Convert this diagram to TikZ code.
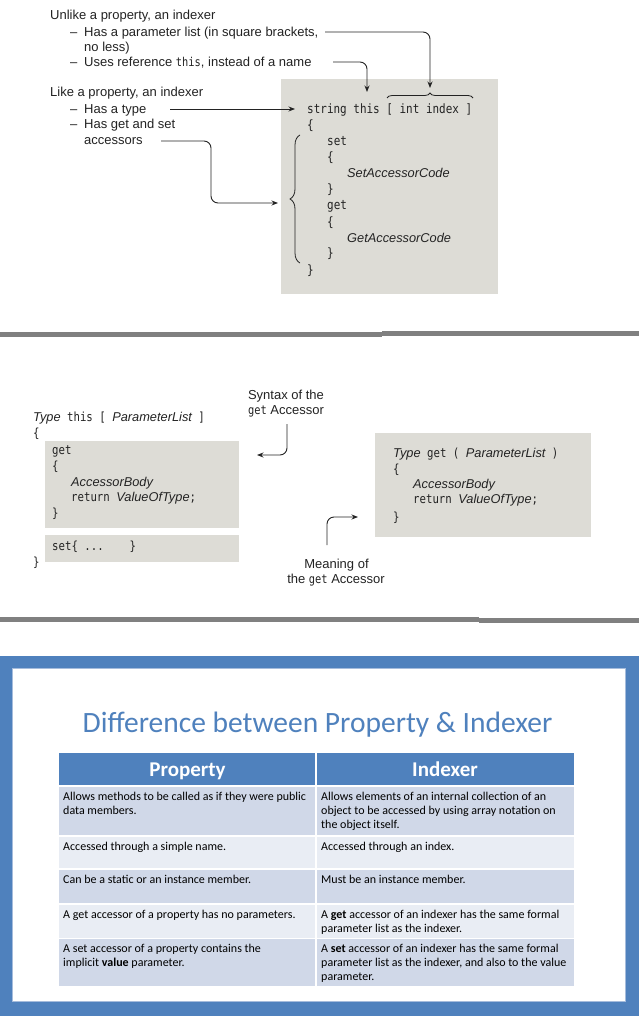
\documentclass[tikz,border=0pt]{standalone}
\usepackage{fontspec}
\setmainfont{Liberation Sans}
\setmonofont[FakeStretch=0.85]{DejaVu Sans Mono}
\newfontfamily\calibri{Carlito}
\usetikzlibrary{arrows.meta,decorations.pathreplacing}

\definecolor{codebg}{RGB}{221,220,214}
\definecolor{sepgray}{RGB}{128,128,128}
\definecolor{pblue}{RGB}{79,129,189}
\definecolor{bandA}{RGB}{208,216,232}
\definecolor{bandB}{RGB}{233,237,244}
\definecolor{inkc}{RGB}{35,35,35}
\definecolor{edgeblue}{RGB}{165,188,220}

\newcommand\phv[1]{{\fontsize{12.8}{15}\selectfont\rmfamily\itshape #1}}
\newcommand\rowstrut{\rule{0pt}{10pt}}
\newcommand\kw[1]{{\fontsize{12.2}{14}\selectfont\ttfamily #1}}

\tikzset{
  lbl/.style={anchor=base west, inner sep=0pt, font=\fontsize{13}{15}\selectfont, text=inkc},
  clbl/.style={anchor=base, inner sep=0pt, font=\fontsize{13}{15}\selectfont, text=inkc},
  codeA/.style={anchor=base west, inner sep=0pt, font=\fontsize{12.9}{15}\selectfont\ttfamily, text=inkc},
  codeB/.style={anchor=base west, inner sep=0pt, font=\fontsize{12.6}{15}\selectfont\ttfamily, text=inkc},
  conn/.style={draw=inkc, line width=0.9pt, rounded corners=7pt, -{Stealth[length=6.5pt,width=5pt]}},
  codebox/.style={fill=codebg, draw=none},
  sepline/.style={draw=sepgray, line width=4.5pt},
  cell/.style={anchor=north west, inner sep=0pt, align=left, text=black, font=\calibri\fontsize{12}{14}\selectfont},
  hdr/.style={anchor=base, inner sep=0pt, text=white, font=\calibri\bfseries\fontsize{21}{24}\selectfont},
  bracestyle/.style={draw=inkc, line width=0.8pt, decorate},
}

\begin{document}
\begin{tikzpicture}[x=1pt,y=-1pt]
\useasboundingbox (0,0) rectangle (639,1016);
\fill[white] (0,0) rectangle (639,1016);

% ---------------- top section ----------------
\fill[codebox] (281,79) rectangle (498,294);

\node[lbl] (t1) at (50,19.5) {Unlike a property, an indexer};
\node[lbl] (t2) at (70,36.5) {\makebox[14pt][l]{–}Has a parameter list (in square brackets,};
\node[lbl] (t3) at (84,51.5) {no less)};
\node[lbl] (t4) at (70,66.5) {\makebox[14pt][l]{–}Uses reference \kw{this}, instead of a name};
\node[lbl] (t5) at (50,96.5) {Like a property, an indexer};
\node[lbl] (t6) at (70,113.5) {\makebox[14pt][l]{–}Has a type};
\node[lbl] (t7) at (70,128.5) {\makebox[14pt][l]{–}Has get and set};
\node[lbl] (t8) at (84,144.5) {accessors};

\node[codeA] (c1) at (307,114) {string this [ int index ]};
\node[codeA] (c2) at (307,130) {\{};
\node[codeA] (c3) at (327,146) {set};
\node[codeA] (c4) at (327,162) {\{};
\node[codeA] (c5) at (347,178) {\phv{SetAccessorCode}};
\node[codeA] (c6) at (327,194) {\}};
\node[codeA] (c7) at (327,210) {get};
\node[codeA] (c8) at (327,226) {\{};
\node[codeA] (c9) at (347,242) {\phv{GetAccessorCode}};
\node[codeA] (c10) at (327,258) {\}};
\node[codeA] (c11) at (307,274) {\}};

\draw[bracestyle, decoration={brace, amplitude=5pt}] (387,98) -- (473,98);
\draw[bracestyle, decoration={brace, amplitude=10pt}] (300,263) -- (300,135);

\coordinate (a1s) at (325,32);
\coordinate (a1e) at (430,88);
\coordinate (a2s) at (333,62);
\coordinate (a2e) at (367,92);
\coordinate (a3s) at (170,109);
\coordinate (a3e) at (295,109);
\coordinate (a4s) at (161,141);
\coordinate (a4m) at (211,172);
\coordinate (a4e) at (278,203);

\draw[conn] (a1s) -| (a1e);
\draw[conn] (a2s) -| (a2e);
\draw[conn] (a3s) -- (a3e);
\draw[conn] (a4s) -| (a4m) |- (a4e);

% separators
\draw[sepline] (0,334.5) -- (382,334.5);
\draw[sepline] (382,333.5) -- (639,333.5);

% ---------------- middle section ----------------
\fill[codebox] (45,441) rectangle (239,528);
\fill[codebox] (45,535) rectangle (239,562);
\fill[codebox] (375,433) rectangle (591,537);

\node[codeB] (m1) at (33,421) {\phv{Type} this [ \phv{ParameterList} ]};
\node[codeB] (m2) at (33,437) {\{};
\node[codeB] (m3) at (52,454) {get};
\node[codeB] (m4) at (52,470) {\{};
\node[codeB] (m5) at (71,486) {\phv{AccessorBody}};
\node[codeB] (m6) at (71,501) {return \phv{ValueOfType};};
\node[codeB] (m7) at (52,517) {\}};
\node[codeB] (m8) at (52,550) {set\{ ...\ \ \ \ \}};
\node[codeB] (m9) at (33,566) {\}};

\node[codeB] (g1) at (393,457.5) {\phv{Type} get ( \phv{ParameterList} )};
\node[codeB] (g2) at (393,473) {\{};
\node[codeB] (g3) at (413,488.5) {\phv{AccessorBody}};
\node[codeB] (g4) at (413,503) {return \phv{ValueOfType};};
\node[codeB] (g5) at (393,521) {\}};

\node[clbl] (s1) at (286,399.5) {Syntax of the};
\node[clbl] (s2) at (286,414.5) {\kw{get} Accessor};
\node[clbl] (n1) at (336.5,568.5) {Meaning of};
\node[clbl] (n2) at (336,583.5) {the \kw{get} Accessor};

\coordinate (sa) at (287,424);
\coordinate (se) at (257,455);
\coordinate (ma) at (327,545);
\coordinate (me) at (358,517);
\draw[conn] (sa) |- (se);
\draw[conn] (ma) |- (me);

\draw[sepline] (0,619.5) -- (479,619.5);
\draw[sepline] (479,620.5) -- (639,620.5);

% ---------------- bottom section ----------------
\fill[pblue] (0,656) rectangle (639,1016);
\fill[white] (12,668) rectangle (625,1001);
\draw[edgeblue, line width=0.8pt] (12,668) rectangle (625,1001);

\node[anchor=base, inner sep=0pt, text=pblue, font=\calibri\fontsize{29.5}{34}\selectfont] (title) at (317.5,732) {Difference between Property \& Indexer};

\fill[pblue] (59,753) rectangle (574,786);
\fill[bandA] (59,786) rectangle (574,836);
\fill[bandB] (59,836) rectangle (574,869);
\fill[bandA] (59,869) rectangle (574,904);
\fill[bandB] (59,904) rectangle (574,938.7);
\fill[bandA] (59,938.7) rectangle (574,985.5);
\draw[white, line width=2.5pt] (59,786) -- (574,786);
\draw[white, line width=1.3pt] (59,836) -- (574,836);
\draw[white, line width=1.3pt] (59,869) -- (574,869);
\draw[white, line width=1.3pt] (59,904) -- (574,904);
\draw[white, line width=1.3pt] (59,938.7) -- (574,938.7);
\draw[white, line width=1.3pt] (316,753) -- (316,985.5);

\node[hdr] (h1) at (187.5,776) {Property};
\node[hdr] (h2) at (445,776) {Indexer};

\node[cell] (r1a) at (63,790) {\rowstrut Allows methods to be called as if they were public\\data members.};
\node[cell] (r1b) at (321,790) {\rowstrut Allows elements of an internal collection of an\\object to be accessed by using array notation on\\the object itself.};
\node[cell] (r2a) at (63,840) {\rowstrut Accessed through a simple name.};
\node[cell] (r2b) at (321,840) {\rowstrut Accessed through an index.};
\node[cell] (r3a) at (63,873) {\rowstrut Can be a static or an instance member.};
\node[cell] (r3b) at (321,873) {\rowstrut Must be an instance member.};
\node[cell] (r4a) at (63,908) {\rowstrut A get accessor of a property has no parameters.};
\node[cell] (r4b) at (321,908) {\rowstrut A \textbf{get} accessor of an indexer has the same formal\\parameter list as the indexer.};
\node[cell] (r5a) at (63,942) {\rowstrut A set accessor of a property contains the\\implicit \textbf{value} parameter.};
\node[cell] (r5b) at (321,942) {\rowstrut A \textbf{set} accessor of an indexer has the same formal\\parameter list as the indexer, and also to the value\\parameter.};
\end{tikzpicture}
\end{document}
